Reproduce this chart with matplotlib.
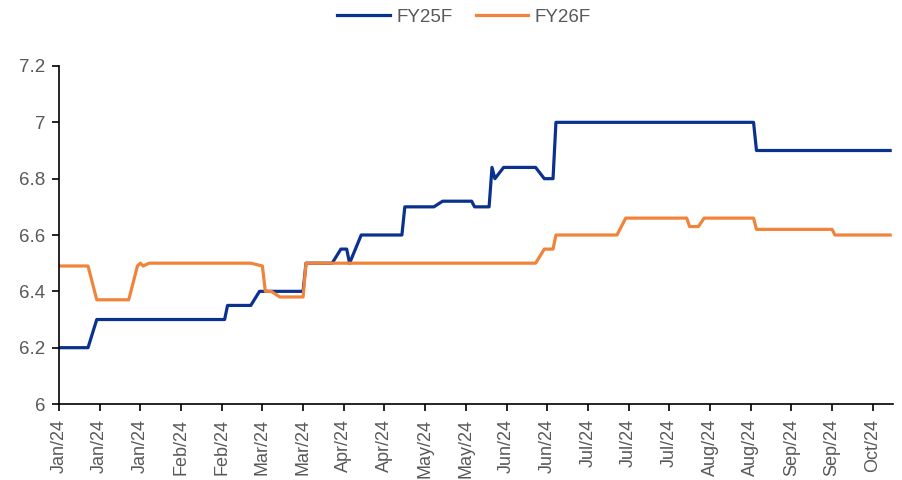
import numpy as np
import pandas as pd
import matplotlib
matplotlib.use("Agg")
import matplotlib.pyplot as plt
import matplotlib.dates as mdates

plt.rcParams['font.family'] = ['Liberation Sans', 'DejaVu Sans']

# change points (date, consensus EPS)
fy25_dates = ["2024-01-01", "2024-01-11", "2024-01-14", "2024-02-27", "2024-02-28",
              "2024-03-07", "2024-03-10", "2024-03-25", "2024-03-26", "2024-04-04",
              "2024-04-07", "2024-04-09", "2024-04-10", "2024-04-14", "2024-04-28",
              "2024-04-29", "2024-05-09", "2024-05-12", "2024-05-22", "2024-05-23",
              "2024-05-28", "2024-05-29", "2024-05-30", "2024-06-02", "2024-06-13",
              "2024-06-16", "2024-06-19", "2024-06-20", "2024-08-27", "2024-08-28",
              "2024-10-13"]
fy25_vals = [6.20, 6.20, 6.30, 6.30, 6.35,
             6.35, 6.40, 6.40, 6.50, 6.50,
             6.55, 6.55, 6.50, 6.60, 6.60,
             6.70, 6.70, 6.72, 6.72, 6.70,
             6.70, 6.84, 6.80, 6.84, 6.84,
             6.80, 6.80, 7.00, 7.00, 6.90,
             6.90]

fy26_dates = ["2024-01-01", "2024-01-11", "2024-01-14", "2024-01-25", "2024-01-28",
              "2024-01-29", "2024-01-30", "2024-02-01", "2024-03-07", "2024-03-11",
              "2024-03-12", "2024-03-14", "2024-03-17", "2024-03-25", "2024-03-26",
              "2024-06-13", "2024-06-16", "2024-06-19", "2024-06-20", "2024-07-11",
              "2024-07-14", "2024-08-04", "2024-08-05", "2024-08-08", "2024-08-10",
              "2024-08-27", "2024-08-28", "2024-09-23", "2024-09-24", "2024-10-13"]
fy26_vals = [6.49, 6.49, 6.37, 6.37, 6.49,
             6.50, 6.49, 6.50, 6.50, 6.49,
             6.40, 6.40, 6.38, 6.38, 6.50,
             6.50, 6.55, 6.55, 6.60, 6.60,
             6.66, 6.66, 6.63, 6.63, 6.66,
             6.66, 6.62, 6.62, 6.60, 6.60]

tick_dates = pd.date_range("2024-01-01", periods=21, freq="14D")

blue = "#0B318F"
orange = "#F0843A"
grey = "#595959"

fig = plt.figure(figsize=(9.03, 4.80), dpi=100)
ax = fig.add_axes([0.0653, 0.1583, 0.9237, 0.7042])

ax.plot(pd.to_datetime(fy25_dates), fy25_vals, color=blue, lw=2.3, label="FY25F")
ax.plot(pd.to_datetime(fy26_dates), fy26_vals, color=orange, lw=2.3, label="FY26F")

ax.set_xlim(pd.Timestamp("2024-01-01"), pd.Timestamp("2024-10-14"))
ax.set_ylim(6, 7.2)
ax.set_yticks(np.arange(6, 7.21, 0.2))
ax.set_yticklabels(["6", "6.2", "6.4", "6.6", "6.8", "7", "7.2"])
ax.set_xticks(tick_dates)
ax.xaxis.set_major_formatter(mdates.DateFormatter("%b/%y"))

for s in ["top", "right"]:
    ax.spines[s].set_visible(False)
for s in ["left", "bottom"]:
    ax.spines[s].set_linewidth(1.2)
    ax.spines[s].set_color("black")

ax.tick_params(axis="y", labelsize=13.5, colors="black", labelcolor=grey, length=5, width=1.2, pad=5)
ax.tick_params(axis="x", labelsize=13, colors="black", labelcolor=grey, length=5, width=1.2,
               labelrotation=90, pad=6)

fig.legend(loc="center", bbox_to_anchor=(464 / 903, 1 - 17 / 480), ncol=2, frameon=False,
           fontsize=13.5, labelcolor=grey, handlelength=2.8, handletextpad=0.33, columnspacing=1.25)

fig.savefig("out.png", dpi=100)
